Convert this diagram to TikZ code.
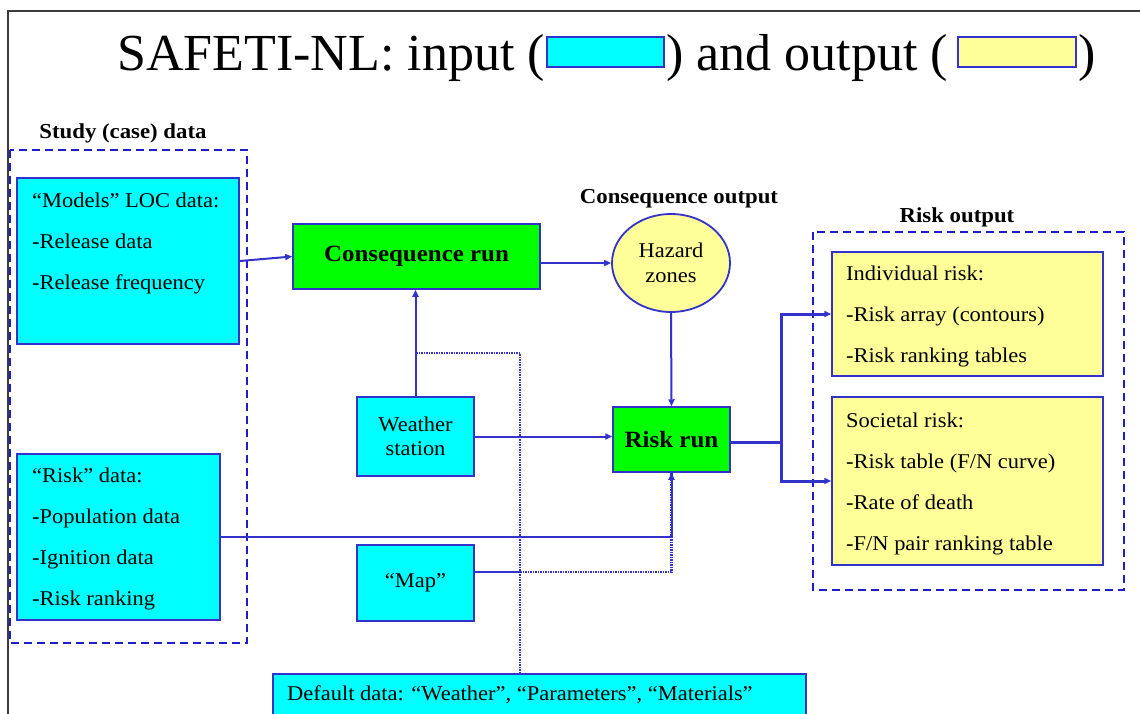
\documentclass[tikz,border=0pt]{standalone}
\usepackage{fontspec}
\setmainfont[FakeStretch=1.07]{Liberation Serif}
\newfontfamily\titlefont{Liberation Serif}
\usetikzlibrary{arrows.meta,calc,shapes.geometric}
\definecolor{lblue}{RGB}{51,51,204}
\definecolor{dblue}{RGB}{30,30,200}
\definecolor{cyanfill}{RGB}{0,255,255}
\definecolor{greenfill}{RGB}{0,255,0}
\definecolor{yelfill}{RGB}{255,255,153}
\definecolor{framegray}{RGB}{60,60,60}
\tikzset{
  box/.style={draw=lblue, line width=1.5pt, inner sep=0pt, rectangle},
  inbox/.style={box, fill=cyanfill},
  outbox/.style={box, fill=yelfill},
  runbox/.style={box, fill=greenfill},
  groupbox/.style={draw=dblue, line width=1.6pt, dash pattern=on 8pt off 5pt},
  body/.style={font=\fontsize{21}{41}\selectfont, inner sep=0pt, align=left, text=black},
  head/.style={font=\fontsize{21.3}{25}\selectfont\bfseries, inner sep=0pt},
  runtext/.style={font=\fontsize{23.3}{28}\selectfont\bfseries},
  titletext/.style={font=\titlefont\fontsize{52}{56}\selectfont, inner sep=0pt},
  conn/.style={draw=lblue, line width=2pt, -{Triangle[length=7pt,width=6pt]}},
  plainline/.style={draw=lblue, line width=2pt},
  dotline/.style={draw=lblue, line width=2.2pt, dash pattern=on 1.5pt off 1pt},
  bigconn/.style={draw=lblue, line width=3pt},
}
\begin{document}
\begin{tikzpicture}[x=1pt,y=-1pt]
\useasboundingbox (0,0) rectangle (1140,713);
% slide frame
\coordinate (ftl) at (8,11);
\coordinate (ftr) at (1142,11);
\coordinate (fbl) at (8,715);
\draw[framegray, line width=2.5pt] (ftr) -- (ftl) -- (fbl);

% title
\node[titletext, anchor=base east] (t1) at (545,70) {SAFETI-NL: input (};
\node[inbox, line width=2pt, minimum width=117pt, minimum height=30pt] (legin) at (605.5,52) {};
\node[titletext, anchor=base west] (t2) at (666,70) {) and output (};
\node[outbox, line width=2pt, minimum width=118pt, minimum height=30pt] (legout) at (1017,52) {};
\node[titletext, anchor=base west] (t3) at (1078,70) {)};

% study (case) data group
\node[head, anchor=base] (studyhead) at (123,138) {Study (case) data};
\draw[groupbox] (10,150) rectangle (247,643);
\node[inbox, minimum width=222pt, minimum height=166pt] (models) at (128,261) {};
\node[body, anchor=north west] (modelstxt) at (32,192) {\rule{0pt}{15pt}“Models” LOC data:\\-Release data\\-Release frequency};
\node[inbox, minimum width=203pt, minimum height=166pt] (riskdata) at (118.5,537) {};
\node[body, anchor=north west] (riskdatatxt) at (32,467) {\rule{0pt}{15pt}“Risk” data:\\-Population data\\-Ignition data\\-Risk ranking};

% centre
\node[runbox, minimum width=247pt, minimum height=65pt, runtext] (consrun) at (416.5,256.5) {Consequence run};
\node[inbox, minimum width=117pt, minimum height=79pt, font=\fontsize{21}{24}\selectfont, align=center] (weather) at (415.5,436.5) {Weather\\station};
\node[inbox, minimum width=117pt, minimum height=76pt, font=\fontsize{21}{24}\selectfont] (map) at (415.5,583) {“Map”};
\node[inbox, minimum width=533pt, minimum height=44pt] (default) at (539.5,696) {};
\node[body, anchor=base west] (defaulttxt) at (287,700) {Default data: “Weather”, “Parameters”, “Materials”};

\node[head, anchor=base] (conshead) at (679,203) {Consequence output};
\node[ellipse, draw=lblue, line width=1.8pt, fill=yelfill, minimum width=118pt, minimum height=98pt, inner sep=0pt, font=\fontsize{21}{25}\selectfont, align=center] (hazard) at (671,263) {Hazard\\zones};
\node[runbox, minimum width=117pt, minimum height=65pt, runtext] (riskrun) at (671.5,439.5) {Risk run};

% risk output group
\node[head, anchor=base] (riskhead) at (957,222) {Risk output};
\draw[groupbox] (813,232) rectangle (1124,590);
\node[outbox, minimum width=271pt, minimum height=124pt] (indiv) at (967.5,314) {};
\node[body, anchor=north west] (indivtxt) at (846,265) {\rule{0pt}{15pt}Individual risk:\\-Risk array (contours)\\-Risk ranking tables};
\node[outbox, minimum width=271pt, minimum height=168pt] (societal) at (967.5,481) {};
\node[body, anchor=north west] (societaltxt) at (846,412) {\rule{0pt}{15pt}Societal risk:\\-Risk table (F/N curve)\\-Rate of death\\-F/N pair ranking table};

% connectors
\draw[conn] (models.east) -- (consrun.west);
\draw[conn] (consrun.east |- hazard.west) -- (hazard.west);
\draw[conn] (hazard.south) -- (riskrun.north);
\draw[conn] (weather.north) -- (weather.north |- consrun.south);
\draw[conn] (weather.east) -- (weather.east -| riskrun.west);

\coordinate (dtop) at ($(default.north west)+(248,0)$);
\coordinate (djoin) at ($(weather.north)+(0,-43)$);
\draw[dotline] (dtop) |- (djoin);

\coordinate (mapout) at ($(map.east)+(0,-11)$);
\draw[plainline] (mapout) -- (mapout -| dtop);
\draw[dotline] (mapout -| dtop) -| (riskrun.south);
\draw[conn] (riskdata.east) -| (riskrun.south);

\coordinate (rsplit) at ($(riskrun.east)+(51,3)$);
\draw[bigconn] (riskrun.east |- rsplit) -- (rsplit);
\draw[bigconn, -{Triangle[length=7pt,width=6pt]}] (rsplit) |- (indiv.west);
\draw[bigconn, -{Triangle[length=7pt,width=6pt]}] (rsplit) |- (societal.west);
\end{tikzpicture}
\end{document}
